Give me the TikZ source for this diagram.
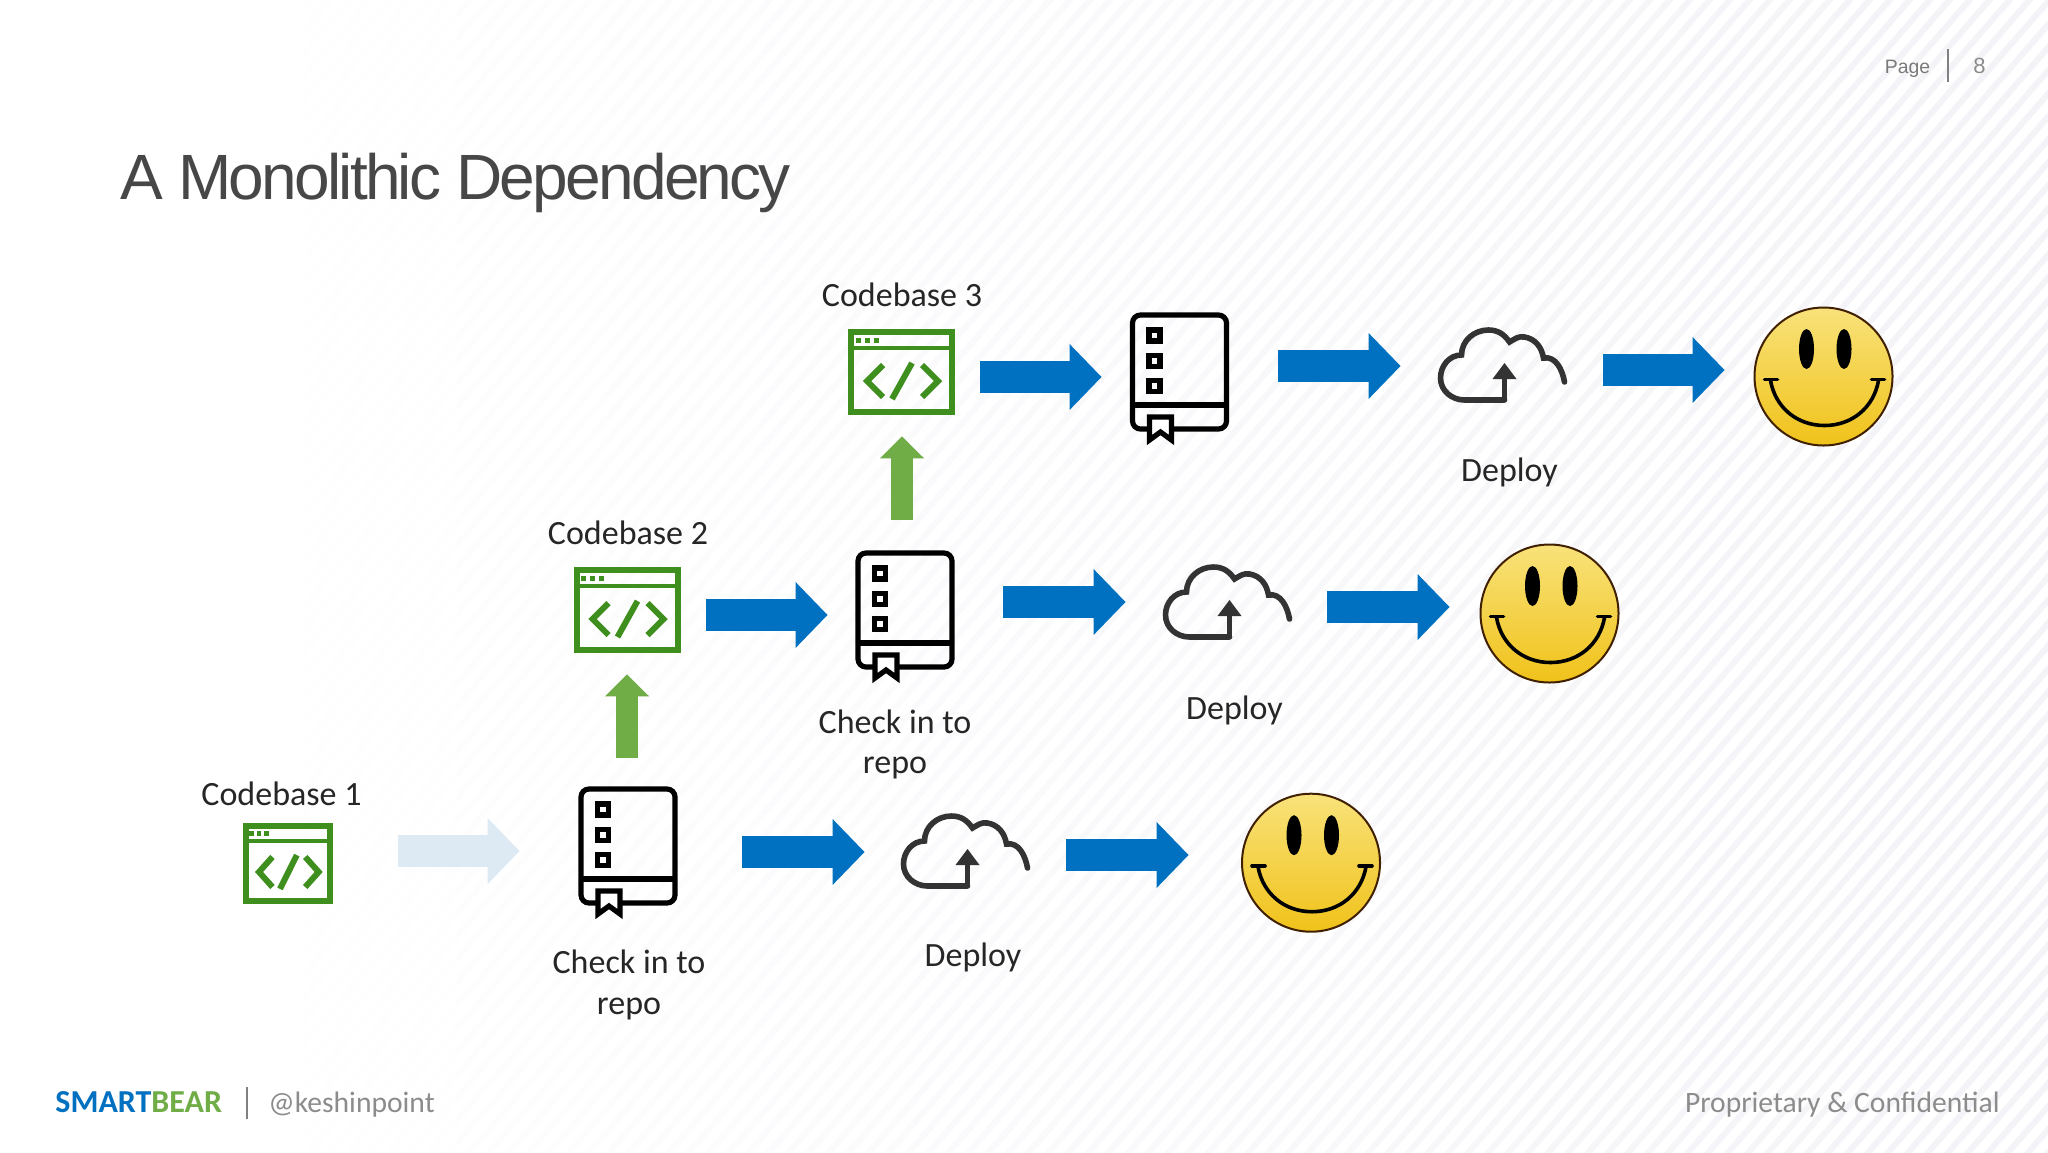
\documentclass[tikz,border=0pt]{standalone}
\usepackage{fontspec}
\setmainfont{Carlito}
\newfontfamily\titlefont[LetterSpace=-4.3]{Liberation Sans}
\newfontfamily\pagefont{Liberation Sans}
\usepackage{xcolor}
\usetikzlibrary{arrows.meta,calc,fadings}
\definecolor{sbblue}{HTML}{0070C0}
\definecolor{sbgreen}{HTML}{70AD47}
\definecolor{codegreen}{HTML}{3F8F1F}
\definecolor{ghostblue}{HTML}{DDEAF4}
\definecolor{stripe}{HTML}{F4F4F8}
\definecolor{smiletop}{HTML}{F8E27A}
\definecolor{smilemid}{HTML}{F8DA4C}
\definecolor{smilelow}{HTML}{F0C21A}
\pgfdeclarehorizontalshading{bgshade}{100bp}{color(0bp)=(transparent!100); color(42bp)=(transparent!100); color(61bp)=(transparent!0); color(100bp)=(transparent!0)}
\pgfdeclarefading{bgfade}{\pgfuseshading{bgshade}}
\tikzset{
  bluearrow/.style={line width=16pt, sbblue, -{Triangle[width=32pt,length=16pt]}},
  ghostarrow/.style={bluearrow, ghostblue},
  greenarrow/.style={line width=11pt, sbgreen, -{Triangle[width=21.5pt,length=11pt]}},
  label/.style={font=\fontsize{17}{20.2}\selectfont, text=black!85, align=center, inner sep=0pt},
  footer/.style={font=\fontsize{14.8}{17}\selectfont, text=black!45, inner sep=0pt},
  pagetext/.style={font=\pagefont\fontsize{9.7}{11}\selectfont, text=black!52, inner sep=0pt},
  codebox/.style={minimum width=53.5pt, minimum height=43pt, inner sep=0pt},
  repobox/.style={minimum width=49.5pt, minimum height=59pt, inner sep=0pt},
  cloudbox/.style={minimum width=64pt, minimum height=37.5pt, inner sep=0pt},
  smilebox/.style={circle, minimum size=69.5pt, inner sep=0pt},
  codeicon/.pic={
    \draw[codegreen, line width=3pt] (-50.5,-40) rectangle (50.5,40);
    \draw[codegreen, line width=2.4pt] (-51,-24) -- (51,-24);
    \foreach \dotx in {-43.5,-34.5,-25.5} \fill[codegreen] (\dotx-2.5,-34.5) rectangle (\dotx+2.5,-29.5);
    \draw[codegreen, line width=3pt] (-18.5,-7) -- (-34.5,9) -- (-18.5,25);
    \draw[codegreen, line width=3pt] (10.5,-9) -- (-9.5,27);
    \draw[codegreen, line width=3pt] (20.5,-7) -- (36.5,9) -- (20.5,25);
  },
  repoicon/.pic={
    \draw[black, line width=2.6pt, rounded corners=4pt] (-47,-57) rectangle (47,57);
    \draw[black, line width=2.6pt] (-47,33) -- (47,33);
    \foreach \sqy in {-36.5,-11,14} \draw[black, line width=2.8pt] (-30.5,\sqy-5.5) rectangle (-19.5,\sqy+5.5);
    \filldraw[fill=white, draw=black, line width=2.6pt] (-30,45) -- (-8,45) -- (-8,68) -- (-19,60) -- (-30,68) -- cycle;
  },
  cloudicon/.pic={
    \draw[black!80, line width=2.8pt, line cap=round] (1,34) -- (-39,34)
      to[out=180,in=-90] (-63,12) to[out=90,in=180] (-42,-11)
      to[out=90,in=180] (-15,-36) to[out=0,in=125] (6,-24)
      to[out=30,in=170] (21,-29) to[out=-10,in=100] (40,-8)
      to[out=10,in=100] (61,16);
    \draw[black!80, line width=2.8pt] (1,34) -- (1,10);
    \fill[black!80] (-11,13) -- (13,13) -- (1,-3) -- cycle;
  },
  smileicon/.pic={
    \shade[top color=smiletop, middle color=smilemid, bottom color=smilelow] (0,0) circle (69);
    \draw[black!75!orange, line width=1pt] (0,0) circle (69);
    \fill[black] (-17,-27.5) ellipse (7.5 and 20);
    \fill[black] (20.5,-27.5) ellipse (7.5 and 20);
    \draw[black, line width=1.8pt] (-53,4) to[out=-80,in=180] (1,49) to[out=0,in=-100] (55,4);
    \draw[black, line width=1.8pt, line cap=round] (-59,3) -- (-46,3) (48,3) -- (61,3);
  }
}

\begin{document}
\begin{tikzpicture}[x=0.5pt, y=-0.5pt]
\useasboundingbox (0,0) rectangle (2048,1152);
% background
\fill[white] (0,0) rectangle (2048,1152);
\begin{scope}
\clip (0,0) rectangle (2048,1152);
\fill[stripe, path fading=bgfade]
  (-1200,1252) \foreach \stripex in {-1200,-1180,...,2048} { (\stripex,1252) -- (\stripex+8,1252) -- (\stripex+1182,-100) -- (\stripex+1174,-100) -- cycle };
\end{scope}

% header and footer
\node[font=\titlefont\fontsize{32}{38}\selectfont, text=black!72, anchor=west, inner sep=0pt] (title) at (120,183) {A Monolithic Dependency};
\node[pagetext] (pagelbl) at (1907.5,68.5) {Page};
\draw[black!50, line width=1.2pt] (1948,49) -- (1948,82);
\node[pagetext, font=\pagefont\fontsize{11}{13}\selectfont, text=black!45] (pagenum) at (1979.5,66) {8};
\node[font=\bfseries\fontsize{16}{18}\selectfont, inner sep=0pt, anchor=west] (brand) at (55,1102) {\textcolor{sbblue}{SMART}\textcolor{sbgreen}{BEAR}};
\draw[black!50, line width=1.2pt] (247,1087) -- (247,1119);
\node[footer, anchor=west] (handle) at (268,1105) {@keshinpoint};
\node[footer, anchor=east] (conf) at (2000,1105) {Proprietary \& Confidential};

% icons
\node[codebox] (code3) at (901.5,372) {}; \pic at (code3) {codeicon};
\node[repobox] (repo3) at (1179.5,372) {}; \pic at (repo3) {repoicon};
\node[cloudbox] (cloud3) at (1503.5,366) {}; \pic at (cloud3) {cloudicon};
\node[smilebox] (smile3) at (1823.5,376.5) {}; \pic at (smile3) {smileicon};

\node[codebox] (code2) at (627,610) {}; \pic at (code2) {codeicon};
\node[repobox] (repo2) at (905,610) {}; \pic at (repo2) {repoicon};
\node[cloudbox] (cloud2) at (1228.5,603) {}; \pic at (cloud2) {cloudicon};
\node[smilebox] (smile2) at (1549.5,613.5) {}; \pic at (smile2) {smileicon};

\node[codebox, minimum width=45pt, minimum height=40.5pt] (code1) at (288,863.5) {}; \pic[xscale=0.84, yscale=0.94] at (code1) {codeicon};
\node[repobox] (repo1) at (628,846) {}; \pic at (repo1) {repoicon};
\node[cloudbox] (cloud1) at (966.5,852) {}; \pic at (cloud1) {cloudicon};
\node[smilebox] (smile1) at (1311,862.7) {}; \pic at (smile1) {smileicon};

% labels
\node[label] (base3) at (902,295) {Codebase 3};
\node[label] (base2) at (628,533) {Codebase 2};
\node[label] (base1) at (281.5,794) {Codebase 1};
\node[label] (check2) at (895,744.5) {Check in to\\repo};
\node[label] (check1) at (629,985) {Check in to\\repo};
\node[label] (deploy3) at (1509.5,472) {Deploy};
\node[label] (deploy2) at (1234.5,710) {Deploy};
\node[label] (deploy1) at (973,957) {Deploy};

% arrows
\draw[ghostarrow] ($(code1.east)+(65,-12.5)$) -- ($(repo1.west)+(-58.5,5)$);
\draw[bluearrow] ($(repo1.east)+(64.5,6)$) -- ($(cloud1.west)+(-37.5,0)$);
\draw[bluearrow] ($(cloud1.east)+(35.5,3)$) -- ($(smile1.west)+(-52.5,-7.7)$);
\draw[bluearrow] ($(code2.east)+(25,5)$) -- ($(repo2.west)+(-27.5,5)$);
\draw[bluearrow] ($(repo2.east)+(48.5,-8)$) -- ($(cloud2.west)+(-38.5,-1)$);
\draw[bluearrow] ($(cloud2.east)+(34.5,4)$) -- ($(smile2.west)+(-30,-6.5)$);
\draw[bluearrow] ($(code3.east)+(25,5)$) -- ($(repo3.west)+(-28,5)$);
\draw[bluearrow] ($(repo3.east)+(49,-6)$) -- ($(cloud3.west)+(-38.5,0)$);
\draw[bluearrow] ($(cloud3.east)+(35.5,4)$) -- ($(smile3.west)+(-29,-6.5)$);
\draw[greenarrow] ($(repo1.north)+(-1,-29)$) -- ($(code2.south)+(0,21)$);
\draw[greenarrow] ($(repo2.north)+(-3,-31)$) -- ($(code3.south)+(0.5,21)$);
\end{tikzpicture}
\end{document}
